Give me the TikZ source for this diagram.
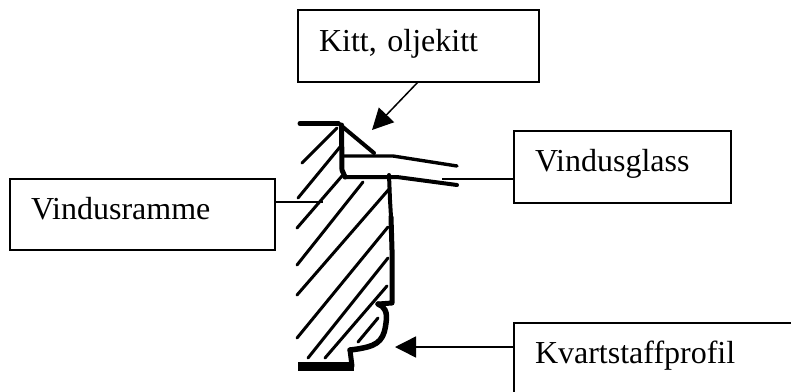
\documentclass[tikz,border=0pt]{standalone}
\usepackage{fontspec}
\setmainfont{Liberation Serif}
\usetikzlibrary{arrows.meta, hobby}

\tikzset{
  labelbox/.style={draw, line width=1.8pt, outer sep=0pt, anchor=north west, align=left, inner xsep=21pt, inner ysep=0pt, font=\fontsize{32}{36}\selectfont},
  pointer/.style={line width=1.5pt, -{Triangle[length=21pt,width=21pt]}},
  leader/.style={line width=1.5pt},
  sketch/.style={line width=4pt, line join=round, line cap=round},
  hatch/.style={line width=3pt, line cap=round}
}

\begin{document}
\begin{tikzpicture}[x=1pt,y=-1pt,use Hobby shortcut]
    \useasboundingbox (0,0) rectangle (791,391);

    \node [labelbox, text width=199pt, text height=41pt, text depth=31pt] (kitt) at (298,10) {Kitt, oljekitt};
    \node [labelbox, text width=223pt, text height=40pt, text depth=31pt] (ramme) at (10,179) {Vindusramme};
    \node [labelbox, text width=175pt, text height=40pt, text depth=32pt] (glass) at (514,131) {Vindusglass};
    \node [labelbox, text width=300pt, text height=40pt, text depth=40pt] (profil) at (514,323) {Kvartstaffprofil};

    \coordinate (kittspiss) at (372,130);
    \coordinate (rammeende) at (323,202);
    \coordinate (glassende) at (442,179);
    \coordinate (profilspiss) at (395,347);

    \draw [pointer] (kitt.south -| 418,0) -- (kittspiss);
    \draw [leader] (ramme.east |- rammeende) -- (rammeende);
    \draw [leader] (glass.west |- glassende) -- (glassende);
    \draw [pointer] (profil.west |- profilspiss) -- (profilspiss);

    % hatching
    \foreach \xa/\ya/\xb/\yb in {302/163/337/128, 298/198/340/147, 297/228/342/176,
        297/265/363/182, 297/295/390/188, 297/338/388/227, 308/358/388/258,
        325/358/387/286, 358/342/378/318}
      \draw [hatch] (\xa,\ya) -- (\xb,\yb);

    % frame, putty and glass
    \draw [sketch, line width=5pt] (300,123.5) -- (338,123.5);
    \draw [sketch] (338,123) -- (374,153);
    \draw [sketch, line width=5pt] (341.5,125) -- (342,170) -- (345,177);
    \draw [sketch] (345,177) -- (397,177) -- (457,185);
    \draw [sketch, line width=3.4pt] (343,156) -- (393,156) -- (457,166);

    % profile
    \draw [sketch] (389,175) -- (390,200) -- (391,217);
    \draw [sketch, line width=5pt] (391,217) -- (392,250) -- (392,303) -- (378,304);
    \draw [sketch, line width=5.5pt] (378,304) .. (385,310) .. (386,323) .. (380,340) .. (363,348) .. (350,350);
    \draw [sketch, line width=5pt] (350,350) -- (352,366);
    \draw [line width=9pt] (298,366) -- (354,366);
\end{tikzpicture}
\end{document}
